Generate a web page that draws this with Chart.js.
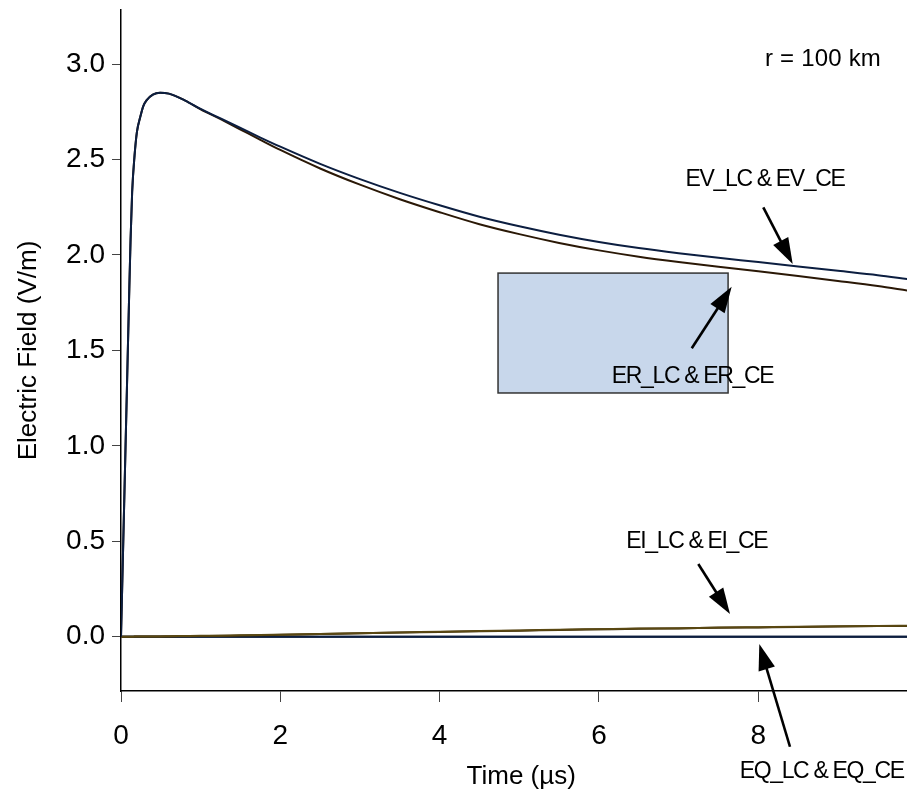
<!DOCTYPE html>
<html><head><meta charset="utf-8">
<script src="https://cdn.jsdelivr.net/npm/chart.js@4.4.1/dist/chart.umd.min.js"></script>
<style>html,body{margin:0;padding:0;background:#fff;} #wrap{width:907px;height:795px;position:relative;}</style>
</head><body><div id="wrap"><canvas id="c"></canvas></div>
<script>
// ---- data (time in microseconds, field in V/m) ----
const time  = [0, 0.02, 0.04, 0.06, 0.08, 0.10, 0.12, 0.14, 0.17, 0.20, 0.24, 0.28, 0.32, 0.40, 0.49, 0.60, 0.80, 1.0, 1.25, 1.5, 1.75, 2.0, 2.5, 3.0, 3.5, 4.0, 4.5, 5.0, 5.5, 6.0, 6.5, 7.0, 7.5, 8.0, 8.5, 9.0, 9.5, 9.87];
const EV_LC = [0, 0.35, 0.70, 1.05, 1.40, 1.75, 2.08, 2.33, 2.52, 2.645, 2.72, 2.78, 2.81, 2.84, 2.85, 2.845, 2.81, 2.765, 2.715, 2.665, 2.615, 2.567, 2.477, 2.397, 2.325, 2.26, 2.20, 2.15, 2.106, 2.068, 2.036, 2.009, 1.985, 1.963, 1.94, 1.917, 1.894, 1.874];
const EV_CE = [0, 0.35, 0.70, 1.05, 1.40, 1.75, 2.08, 2.33, 2.52, 2.645, 2.72, 2.78, 2.81, 2.84, 2.85, 2.845, 2.81, 2.763, 2.711, 2.657, 2.603, 2.55, 2.453, 2.368, 2.292, 2.224, 2.161, 2.109, 2.063, 2.024, 1.991, 1.963, 1.938, 1.915, 1.89, 1.864, 1.837, 1.814];
const EI_LC = [0, 0, 0, 0, 0, 0, 0, 0, 0.001, 0.001, 0.001, 0.001, 0.002, 0.002, 0.002, 0.003, 0.004, 0.005, 0.006, 0.008, 0.009, 0.011, 0.015, 0.019, 0.023, 0.026, 0.030, 0.033, 0.037, 0.040, 0.043, 0.045, 0.048, 0.050, 0.052, 0.055, 0.057, 0.058];
const EI_CE = [0, 0, 0, 0, 0, 0, 0, 0, 0.001, 0.001, 0.001, 0.001, 0.001, 0.002, 0.002, 0.002, 0.003, 0.004, 0.005, 0.007, 0.008, 0.010, 0.014, 0.018, 0.022, 0.025, 0.029, 0.032, 0.036, 0.039, 0.042, 0.044, 0.047, 0.049, 0.051, 0.054, 0.056, 0.057];
const EQ_LC = [0, 0, 0, 0, 0, 0, 0, 0, 0, 0, 0, 0, 0, 0, 0, 0, 0, 0, 0, 0, 0, 0, 0, 0, 0, 0, 0, 0, 0, 0, 0, 0, 0, 0, 0, 0, 0, 0];
const EQ_CE = [0, 0, 0, 0, 0, 0, 0, 0, 0, 0, 0, 0, 0, 0, 0, 0, 0, 0, 0, 0, 0, 0, 0, 0, 0, 0, 0, 0, 0, 0, 0, 0, 0, 0, 0, 0, 0, 0];
const xTickValues = [0, 2, 4, 6, 8];
const yTickValues = [0, 0.5, 1.0, 1.5, 2.0, 2.5, 3.0];

// ---- annotations in data coordinates ----
const boxArea = {x0: 4.733, x1: 7.621, y0: 1.277, y1: 1.905};
const labels = [
  {text: 'r = 100 km',     x: 8.813, y: 3.026, size: 24, spacing: 0.2},
  {text: 'EV_LC & EV_CE',  x: 8.084, y: 2.392, size: 23, spacing: -1.35},
  {text: 'ER_LC & ER_CE',  x: 7.174, y: 1.362, size: 23, spacing: -1.35},
  {text: 'EI_LC & EI_CE',  x: 7.227, y: 0.496, size: 23, spacing: -1.35},
  {text: 'EQ_LC & EQ_CE',  x: 8.796, y: -0.709, size: 23, spacing: -1.35}
];
const arrows = [
  {x1: 8.063, y1: 2.249, x2: 8.432, y2: 1.952},
  {x1: 7.165, y1: 1.511, x2: 7.666, y2: 1.833},
  {x1: 7.247, y1: 0.381, x2: 7.645, y2: 0.119},
  {x1: 8.398, y1: -0.576, x2: 8.013, y2: -0.038}
];

const FONT = "'Liberation Sans', Arial, sans-serif";
Chart.defaults.font.family = FONT;
Chart.defaults.color = '#000';

function pts(arr){ return time.map((t,i)=>({x:t, y:arr[i]})); }

function drawArrow(ctx, x1, y1, x2, y2){
  const a = Math.atan2(y2-y1, x2-x1), L = 26, W = 8.5;
  const c = Math.cos(a), s = Math.sin(a);
  const bx = x2 - L*c, by = y2 - L*s;
  ctx.beginPath(); ctx.moveTo(x1,y1); ctx.lineTo(bx + 2*c, by + 2*s);
  ctx.lineWidth = 2.6; ctx.strokeStyle = '#000'; ctx.stroke();
  ctx.beginPath(); ctx.moveTo(x2,y2); ctx.lineTo(bx + W*s, by - W*c); ctx.lineTo(bx - W*s, by + W*c); ctx.closePath();
  ctx.fillStyle = '#000'; ctx.fill();
}

const annot = {
  id: 'annot',
  beforeDatasetsDraw(chart){
    const {ctx, scales:{x, y}} = chart;
    const px0 = x.getPixelForValue(boxArea.x0), px1 = x.getPixelForValue(boxArea.x1);
    const py0 = y.getPixelForValue(boxArea.y1), py1 = y.getPixelForValue(boxArea.y0);
    ctx.save();
    ctx.fillStyle = '#c8d7eb';
    ctx.fillRect(px0, py0, px1-px0, py1-py0);
    ctx.lineWidth = 1.5; ctx.strokeStyle = '#333';
    ctx.strokeRect(px0, py0, px1-px0, py1-py0);
    ctx.restore();
  },
  afterDraw(chart){
    const {ctx, scales:{x, y}} = chart;
    ctx.save();
    arrows.forEach(a => drawArrow(ctx, x.getPixelForValue(a.x1), y.getPixelForValue(a.y1), x.getPixelForValue(a.x2), y.getPixelForValue(a.y2)));
    ctx.fillStyle = '#000'; ctx.textAlign = 'center'; ctx.textBaseline = 'middle';
    labels.forEach(l => {
      ctx.font = l.size + 'px ' + FONT;
      ctx.letterSpacing = l.spacing + 'px';
      ctx.fillText(l.text, x.getPixelForValue(l.x), y.getPixelForValue(l.y));
    });
    ctx.restore();
  }
};

new Chart(document.getElementById('c'), {
  type: 'line',
  data: {
    datasets: [
      {label: 'EV_LC', data: pts(EV_LC), borderColor: '#0c1e40'},
      {label: 'EV_CE', data: pts(EV_CE), borderColor: '#2a1806'},
      {label: 'EI_LC', data: pts(EI_LC), borderColor: '#5a4812'},
      {label: 'EI_CE', data: pts(EI_CE), borderColor: '#3a280a'},
      {label: 'EQ_LC', data: pts(EQ_LC), borderColor: '#0c1e40'},
      {label: 'EQ_CE', data: pts(EQ_CE), borderColor: '#14243a'}
    ].map(d => Object.assign(d, {borderWidth: 2, pointRadius: 0, fill: false, cubicInterpolationMode: 'monotone'}))
  },
  options: {
    responsive: true, maintainAspectRatio: false, animation: false,
    layout: {padding: {top: 10, right: 0, left: 0, bottom: 0}},
    plugins: {legend: {display: false}, tooltip: {enabled: false}},
    scales: {
      x: {
        type: 'linear', min: 0, max: 9.867,
        afterBuildTicks: s => { s.ticks = xTickValues.map(v => ({value: v})); },
        afterFit: s => { s.height = 104; s.paddingLeft = 0; s.paddingRight = 0; },
        ticks: {font: {size: 28}, padding: 17, maxRotation: 0, callback: v => String(v)},
        grid: {drawOnChartArea: false, drawTicks: true, tickLength: 11, color: '#444', tickWidth: 1},
        border: {display: true, color: '#000', width: 1.5},
        title: {display: true, text: '\u00a0\u00a0Time (\u00b5s)', font: {size: 26}, padding: {top: 0, bottom: 3}}
      },
      y: {
        type: 'linear', min: -0.284, max: 3.283,
        afterBuildTicks: s => { s.ticks = yTickValues.map(v => ({value: v})); },
        afterFit: s => { s.width = 121; s.paddingTop = 0; s.paddingBottom = 0; },
        ticks: {font: {size: 28}, padding: 7, callback: v => Number(v).toFixed(1)},
        grid: {drawOnChartArea: false, drawTicks: true, tickLength: 9, color: '#444', tickWidth: 1},
        border: {display: true, color: '#000', width: 1.5},
        title: {display: true, text: 'Electric Field (V/m)', font: {size: 26}, padding: {top: 13, bottom: 0}}
      }
    }
  },
  plugins: [annot]
});
</script>
</body></html>
